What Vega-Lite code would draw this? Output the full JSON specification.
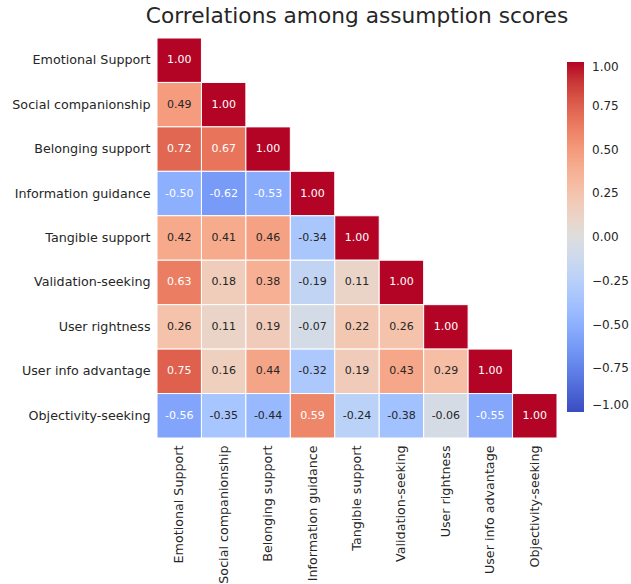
{
  "$schema": "https://vega.github.io/schema/vega-lite/v6.json",
  "autosize": "none",
  "width": 400,
  "height": 400,
  "padding": {"left": 157, "top": 38, "right": 74, "bottom": 146},
  "background": "white",
  "title": {
    "text": "Correlations among assumption scores",
    "fontSize": 21.7,
    "font": "DejaVu Sans",
    "fontWeight": "normal",
    "color": "#262626",
    "anchor": "middle",
    "baseline": "bottom",
    "offset": 10,
    "dy": 22
  },
  "data": {
    "values": [
      {"row": "Emotional Support", "col": "Emotional Support", "r": 1.00},
      {"row": "Social companionship", "col": "Emotional Support", "r": 0.49},
      {"row": "Social companionship", "col": "Social companionship", "r": 1.00},
      {"row": "Belonging support", "col": "Emotional Support", "r": 0.72},
      {"row": "Belonging support", "col": "Social companionship", "r": 0.67},
      {"row": "Belonging support", "col": "Belonging support", "r": 1.00},
      {"row": "Information guidance", "col": "Emotional Support", "r": -0.50},
      {"row": "Information guidance", "col": "Social companionship", "r": -0.62},
      {"row": "Information guidance", "col": "Belonging support", "r": -0.53},
      {"row": "Information guidance", "col": "Information guidance", "r": 1.00},
      {"row": "Tangible support", "col": "Emotional Support", "r": 0.42},
      {"row": "Tangible support", "col": "Social companionship", "r": 0.41},
      {"row": "Tangible support", "col": "Belonging support", "r": 0.46},
      {"row": "Tangible support", "col": "Information guidance", "r": -0.34},
      {"row": "Tangible support", "col": "Tangible support", "r": 1.00},
      {"row": "Validation-seeking", "col": "Emotional Support", "r": 0.63},
      {"row": "Validation-seeking", "col": "Social companionship", "r": 0.18},
      {"row": "Validation-seeking", "col": "Belonging support", "r": 0.38},
      {"row": "Validation-seeking", "col": "Information guidance", "r": -0.19},
      {"row": "Validation-seeking", "col": "Tangible support", "r": 0.11},
      {"row": "Validation-seeking", "col": "Validation-seeking", "r": 1.00},
      {"row": "User rightness", "col": "Emotional Support", "r": 0.26},
      {"row": "User rightness", "col": "Social companionship", "r": 0.11},
      {"row": "User rightness", "col": "Belonging support", "r": 0.19},
      {"row": "User rightness", "col": "Information guidance", "r": -0.07},
      {"row": "User rightness", "col": "Tangible support", "r": 0.22},
      {"row": "User rightness", "col": "Validation-seeking", "r": 0.26},
      {"row": "User rightness", "col": "User rightness", "r": 1.00},
      {"row": "User info advantage", "col": "Emotional Support", "r": 0.75},
      {"row": "User info advantage", "col": "Social companionship", "r": 0.16},
      {"row": "User info advantage", "col": "Belonging support", "r": 0.44},
      {"row": "User info advantage", "col": "Information guidance", "r": -0.32},
      {"row": "User info advantage", "col": "Tangible support", "r": 0.19},
      {"row": "User info advantage", "col": "Validation-seeking", "r": 0.43},
      {"row": "User info advantage", "col": "User rightness", "r": 0.29},
      {"row": "User info advantage", "col": "User info advantage", "r": 1.00},
      {"row": "Objectivity-seeking", "col": "Emotional Support", "r": -0.56},
      {"row": "Objectivity-seeking", "col": "Social companionship", "r": -0.35},
      {"row": "Objectivity-seeking", "col": "Belonging support", "r": -0.44},
      {"row": "Objectivity-seeking", "col": "Information guidance", "r": 0.59},
      {"row": "Objectivity-seeking", "col": "Tangible support", "r": -0.24},
      {"row": "Objectivity-seeking", "col": "Validation-seeking", "r": -0.38},
      {"row": "Objectivity-seeking", "col": "User rightness", "r": -0.06},
      {"row": "Objectivity-seeking", "col": "User info advantage", "r": -0.55},
      {"row": "Objectivity-seeking", "col": "Objectivity-seeking", "r": 1.00}
    ]
  },
  "encoding": {
    "x": {
      "field": "col", "type": "nominal",
      "sort": ["Emotional Support", "Social companionship", "Belonging support", "Information guidance", "Tangible support", "Validation-seeking", "User rightness", "User info advantage", "Objectivity-seeking"],
      "scale": {"paddingInner": 0, "paddingOuter": 0},
      "axis": {"title": null, "labelAngle": -90, "labelFontSize": 12.7, "labelFont": "DejaVu Sans", "labelColor": "#262626", "ticks": false, "domain": false, "labelPadding": 7, "labelAlign": "right", "labelBaseline": "middle"}
    },
    "y": {
      "field": "row", "type": "nominal",
      "sort": ["Emotional Support", "Social companionship", "Belonging support", "Information guidance", "Tangible support", "Validation-seeking", "User rightness", "User info advantage", "Objectivity-seeking"],
      "scale": {"paddingInner": 0, "paddingOuter": 0},
      "axis": {"title": null, "labelFontSize": 12.7, "labelFont": "DejaVu Sans", "labelColor": "#262626", "ticks": false, "domain": false, "labelPadding": 7}
    }
  },
  "layer": [
    {
      "mark": {"type": "rect", "stroke": "white", "strokeWidth": 1},
      "encoding": {
        "color": {
          "field": "r", "type": "quantitative",
          "scale": {
            "domain": [-1, -0.875, -0.75, -0.625, -0.5, -0.375, -0.25, -0.125, 0, 0.125, 0.25, 0.375, 0.5, 0.625, 0.75, 0.875, 1],
            "range": ["#3b4cc0", "#4d68d7", "#6282ea", "#779af7", "#8db0fe", "#a3c2ff", "#b8d0f9", "#ccd9ee", "#dddddd", "#ecd3c5", "#f5c4ad", "#f7b194", "#f49a7b", "#ec7f63", "#de604d", "#cb3e38", "#b40426"],
            "interpolate": "rgb"
          },
          "legend": {
            "title": null,
            "orient": "none",
            "legendX": 410,
            "legendY": 24,
            "direction": "vertical",
            "gradientLength": 350,
            "gradientThickness": 17,
            "gradientStrokeWidth": 0,
            "values": [-1, -0.75, -0.5, -0.25, 0, 0.25, 0.5, 0.75, 1],
            "labelExpr": "replace(format(datum.value, '.2f'), '-', '\u2212')",
            "labelFontSize": 12,
            "labelFont": "DejaVu Sans",
            "labelColor": "#262626",
            "labelOffset": 8,
            "padding": 0
          }
        }
      }
    },
    {
      "mark": {"type": "text", "fontSize": 11, "font": "DejaVu Sans"},
      "encoding": {
        "text": {"field": "r", "type": "quantitative", "format": ".2f"},
        "color": {
          "condition": {"test": "abs(datum.r) >= 0.5", "value": "white"},
          "value": "#262626"
        }
      }
    }
  ],
  "config": {
    "view": {"stroke": null},
    "locale": {"number": {"decimal": ".", "thousands": ",", "grouping": [3], "currency": ["$", ""], "minus": "-"}}
  }
}
